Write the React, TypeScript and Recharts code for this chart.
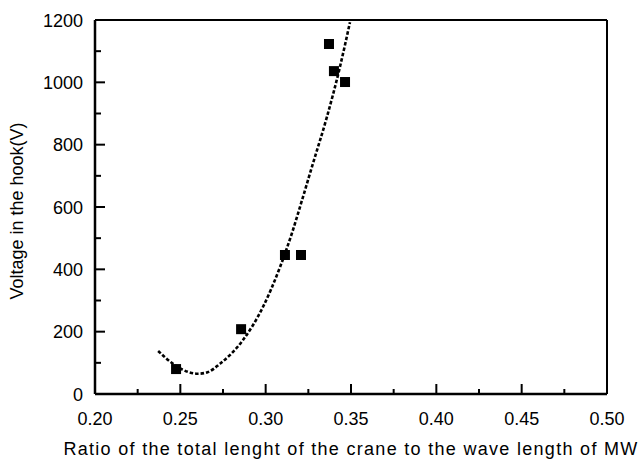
import React from 'react';
import { ComposedChart, XAxis, YAxis, Line, Scatter, ReferenceLine } from 'recharts';

// Measured points (ratio, voltage)
const measuredRatio = [0.2475, 0.2856, 0.3113, 0.3207, 0.3371, 0.34, 0.3465];
const measuredVoltage = [80, 208, 446, 446, 1123, 1036, 1001];

// Dotted trend curve
const curveRatio = [0.237, 0.2475, 0.255, 0.2603, 0.266, 0.2732, 0.2867, 0.2984, 0.3084, 0.3154, 0.3213, 0.328, 0.3359, 0.3435, 0.3494];
const curveVoltage = [138, 90, 70, 65, 70, 97, 173, 279, 407, 516, 622, 745, 889, 1049, 1193];

const xTicks = [0.2, 0.225, 0.25, 0.275, 0.3, 0.325, 0.35, 0.375, 0.4, 0.425, 0.45, 0.475, 0.5];
const xMajor = [0.2, 0.25, 0.3, 0.35, 0.4, 0.45, 0.5];
const yTicks = [0, 100, 200, 300, 400, 500, 600, 700, 800, 900, 1000, 1100, 1200];
const yMajor = [0, 200, 400, 600, 800, 1000, 1200];

const xTitle = 'Ratio of the total lenght of the crane to the wave length of MW';
const yTitle = 'Voltage in the hook(V)';

const measured = measuredRatio.map((x, i) => ({ x, y: measuredVoltage[i] }));
const curve = curveRatio.map((x, i) => ({ x, y: curveVoltage[i] }));

const FONT = '"Liberation Sans", Arial, sans-serif';

const isIn = (arr: number[], v: number) => arr.some((m) => Math.abs(m - v) < 1e-9);

const XTick = (props: any) => {
  const { x, y, payload } = props;
  const v = payload.value as number;
  const major = isIn(xMajor, v);
  return (
    <g>
      <line x1={x} x2={x} y1={y} y2={y - (major ? 10 : 5)} stroke="#000" strokeWidth={2} />
      {major && (
        <text x={x} y={y + 31} textAnchor="middle" fontSize={18} fontFamily={FONT} fill="#000">
          {v.toFixed(2)}
        </text>
      )}
    </g>
  );
};

const YTick = (props: any) => {
  const { x, y, payload } = props;
  const v = payload.value as number;
  const major = isIn(yMajor, v);
  return (
    <g>
      <line x1={x} x2={x + (major ? 10 : 6)} y1={y} y2={y} stroke="#000" strokeWidth={2} />
      {major && (
        <text x={x - 12} y={y + 6.5} textAnchor="end" fontSize={18} fontFamily={FONT} fill="#000">
          {v}
        </text>
      )}
    </g>
  );
};

const Square = (props: any) => {
  const { cx, cy } = props;
  return <rect x={cx - 5} y={cy - 5} width={10} height={10} fill="#000" />;
};

const XTitle = (props: any) => {
  const vb = props.viewBox;
  return (
    <text
      x={vb.x + vb.width / 2}
      y={vb.y + 61}
      textAnchor="middle"
      fontSize={18}
      fontFamily={FONT}
      letterSpacing={1.3}
      fill="#000"
    >
      {xTitle}
    </text>
  );
};

const YTitle = (props: any) => {
  const vb = props.viewBox;
  const cx = 17;
  const cy = vb.y + vb.height / 2 + 4;
  return (
    <text
      x={cx}
      y={cy}
      transform={`rotate(-90, ${cx}, ${cy})`}
      textAnchor="middle"
      dominantBaseline="central"
      fontSize={18}
      fontFamily={FONT}
      fill="#000"
    >
      {yTitle}
    </text>
  );
};

export default function App() {
  return (
    <div style={{ position: 'absolute', left: 0, top: 0, background: '#fff' }}>
      <ComposedChart width={642} height={464} margin={{ top: 20, right: 35, bottom: 0, left: 0 }}>
        <XAxis
          dataKey="x"
          type="number"
          domain={[0.2, 0.5]}
          ticks={xTicks}
          interval={0}
          tickSize={0}
          tickMargin={0}
          tickLine={false}
          tick={<XTick />}
          height={70}
          axisLine={{ stroke: '#000', strokeWidth: 2.5 }}
          allowDataOverflow
          label={<XTitle />}
        />
        <YAxis
          dataKey="y"
          type="number"
          domain={[0, 1200]}
          ticks={yTicks}
          interval={0}
          tickSize={0}
          tickMargin={0}
          tickLine={false}
          tick={<YTick />}
          width={95}
          axisLine={{ stroke: '#000', strokeWidth: 2.5 }}
          allowDataOverflow
          label={<YTitle />}
        />
        <ReferenceLine y={1200} stroke="#000" strokeWidth={2} />
        <ReferenceLine x={0.5} stroke="#000" strokeWidth={2} />
        <Line
          data={curve}
          dataKey="y"
          type="monotone"
          stroke="#000"
          strokeWidth={2.6}
          strokeDasharray="3.5 2"
          dot={false}
          activeDot={false}
          isAnimationActive={false}
        />
        <Scatter data={measured} dataKey="y" shape={<Square />} isAnimationActive={false} />
      </ComposedChart>
    </div>
  );
}
